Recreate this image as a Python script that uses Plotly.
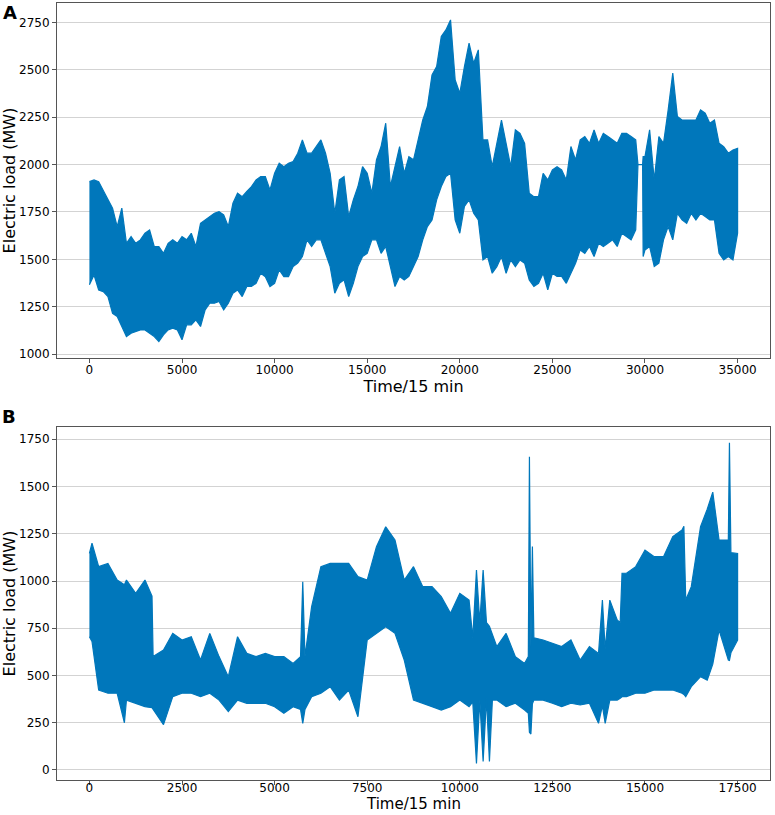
import plotly.graph_objects as go

BLUE = "#0077BB"

# Panel A: upper / lower envelope of the load series
a_time = list(range(0, 29501, 250)) + [29620, 29870, 29900] \
    + list(range(30000, 35001, 250))
a_upper = [
    1910, 1919, 1910, 1866, 1814, 1770, 1673, 1770, 1585, 1620,
    1585, 1603, 1638, 1655, 1568, 1568, 1532, 1585, 1603, 1585,
    1620, 1603, 1638, 1568, 1690, 1708, 1726, 1743, 1752, 1735,
    1673, 1796, 1849, 1831, 1858, 1884, 1919, 1937, 1937, 1866,
    1954, 2007, 1989, 2007, 2016, 2060, 2130, 2060, 2060, 2095,
    2130, 2060, 1954, 1743, 1919, 1937, 1726, 1814, 1884, 1989,
    1954, 1849, 2025, 2095, 2218, 1884, 1989, 2095, 1954, 2042,
    2025, 2130, 2235, 2306, 2473, 2517, 2675, 2710, 2763, 2446,
    2376, 2517, 2640, 2534, 2605, 2130, 2130, 1989, 2112, 2235,
    2112, 1989, 2183, 2165, 2112, 1849, 1831, 1831, 1954, 1919,
    1972, 1989, 1972, 1919, 2095, 2025, 2130, 2148, 2112, 2183,
    2112, 2165, 2148, 2130, 2112, 2165, 2165, 2148, 2130,
    2000, 2000, 2042,
    2042, 2183, 1919, 2148, 2112, 2288, 2482, 2253, 2235, 2235,
    2235, 2235, 2288, 2271, 2218, 2235, 2112, 2095, 2060, 2077,
    2086,
]
a_lower = [
    1366, 1418, 1339, 1330, 1304, 1216, 1199, 1146, 1093, 1111,
    1120, 1128, 1128, 1111, 1093, 1067, 1102, 1128, 1137, 1128,
    1076, 1155, 1155, 1181, 1146, 1234, 1269, 1269, 1278, 1234,
    1269, 1322, 1339, 1304, 1357, 1357, 1374, 1427, 1409, 1357,
    1374, 1445, 1409, 1409, 1462, 1480, 1515, 1603, 1568, 1603,
    1603, 1532, 1462, 1322, 1374, 1392, 1304, 1374, 1462, 1515,
    1532, 1603, 1603, 1532, 1568, 1462, 1357, 1410, 1392, 1410,
    1462, 1515, 1603, 1673, 1708, 1814, 1884, 1937, 1954, 1708,
    1638, 1779, 1814, 1743, 1708, 1497, 1515, 1427, 1462, 1515,
    1427, 1497, 1462, 1497, 1480, 1392, 1357, 1374, 1427, 1339,
    1427, 1410, 1410, 1374, 1427, 1480, 1550, 1532, 1568, 1515,
    1585, 1568, 1585, 1603, 1568, 1638, 1620, 1603, 1656,
    2000, 2000, 1515,
    1550, 1568, 1462, 1480, 1603, 1673, 1603, 1743, 1708, 1690,
    1743, 1708, 1743, 1726, 1708, 1708, 1532, 1497, 1515, 1497,
    1638,
]

# Panel B: upper / lower envelope of the load series, with its narrow spikes
b_time = [
    0, 70, 250, 500, 750, 945, 1000, 1250, 1500, 1690,
    1720, 2000, 2250, 2500, 2750, 3000, 3250, 3500, 3750, 4000,
    4250, 4500, 4750, 5000, 5250, 5500, 5700, 5760, 5820, 6000,
    6250, 6500, 6750, 7000, 7250, 7500, 7750, 8000, 8250, 8500,
    8750, 9000, 9250, 9500, 9750, 10000, 10250, 10350, 10450, 10540,
    10630, 10720, 10800, 10880, 11000, 11250, 11500, 11750, 11850, 11880,
    11920, 11960, 12000, 12250, 12500, 12750, 13000, 13250, 13500, 13745,
    13850, 13925, 14050, 14250, 14330, 14380, 14500, 14750, 15000, 15250,
    15500, 15750, 16000, 16050, 16100, 16250, 16500, 16680, 16830, 17000,
    17250, 17280, 17320, 17500,
]
b_upper = [
    1146, 1200, 1076, 1093, 1005, 980, 1005, 935, 1005, 920,
    600, 635, 723, 688, 705, 582, 723, 600, 494, 705,
    617, 600, 617, 600, 600, 564, 600, 996, 600, 864,
    1076, 1093, 1093, 1093, 1023, 1005, 1182, 1287, 1217, 1005,
    1076, 970, 970, 917, 829, 935, 899, 700, 1058, 780,
    1058, 780, 760, 720, 653, 723, 600, 564, 600, 1658,
    650, 1182, 700, 688, 670, 653, 688, 582, 653, 617,
    899, 640, 899, 794, 780, 1041, 1041, 1076, 1164, 1129,
    1129, 1235, 1270, 1290, 899, 970, 1287, 1380, 1470, 1217,
    1217, 1732, 1150, 1146,
]
b_lower = [
    705, 680, 423, 406, 406, 250, 370, 353, 335, 330,
    320, 240, 388, 406, 406, 388, 406, 370, 309, 370,
    353, 353, 353, 335, 300, 335, 320, 247, 320, 388,
    406, 441, 370, 423, 282, 688, 723, 758, 723, 582,
    370, 353, 335, 317, 335, 370, 335, 360, 35, 370,
    45, 380, 45, 370, 370, 335, 353, 317, 300, 200,
    190, 350, 370, 370, 353, 335, 353, 344, 353, 247,
    340, 247, 370, 370, 380, 388, 388, 406, 406, 423,
    423, 423, 406, 400, 388, 441, 494, 476, 560, 741,
    582, 580, 620, 688,
]

a_xticks = list(range(0, 35001, 5000))
a_yticks = list(range(1000, 2751, 250))
b_xticks = list(range(0, 17501, 2500))
b_yticks = list(range(0, 1751, 250))


def band(xs, upper, lower, xaxis, yaxis):
    return go.Scatter(
        x=xs + xs[::-1],
        y=upper + lower[::-1],
        fill="toself",
        fillcolor=BLUE,
        mode="lines",
        line=dict(color=BLUE, width=1.2),
        xaxis=xaxis,
        yaxis=yaxis,
        showlegend=False,
        hoverinfo="skip",
    )


fig = go.Figure()
fig.add_trace(band(a_time, a_upper, a_lower, "x", "y"))
fig.add_trace(band(b_time, b_upper, b_lower, "x2", "y2"))

axis_common = dict(
    showline=True,
    linecolor="#555555",
    linewidth=1,
    mirror=True,
    ticks="outside",
    ticklen=4,
    tickcolor="#555555",
    tickfont=dict(family="DejaVu Sans", size=12, color="black"),
    tickformat="d",
    zeroline=False,
    automargin=False,
)
y_common = dict(
    showgrid=True,
    gridcolor="#d3d3d3",
    gridwidth=1,
    title=dict(text="Electric load (MW)", font=dict(size=16), standoff=4),
)

fig.update_layout(
    width=775,
    height=815,
    margin=dict(l=57, r=5, t=3, b=35),
    paper_bgcolor="white",
    plot_bgcolor="white",
    font=dict(family="DejaVu Sans", color="black"),
    xaxis=dict(domain=[0, 1], anchor="y", range=[-1750, 36750],
               tickvals=a_xticks, showgrid=False, ticklabelstandoff=-3,
               title=dict(text="Time/15 min", font=dict(size=16), standoff=1),
               **axis_common),
    yaxis=dict(domain=[0.5431, 1.0], anchor="x", range=[980, 2852],
               tickvals=a_yticks, **y_common, **axis_common),
    xaxis2=dict(domain=[0, 1], anchor="y2", range=[-875, 18375],
                tickvals=b_xticks, showgrid=False, ticklabelstandoff=-7,
                **axis_common),
    yaxis2=dict(domain=[0, 0.4543], anchor="x2", range=[-53, 1815],
                tickvals=b_yticks, **y_common, **axis_common),
    annotations=[
        dict(text="<b>A</b>", x=-0.066, y=0.9878, xref="paper", yref="paper",
             xanchor="center", yanchor="middle", showarrow=False,
             font=dict(size=18, family="DejaVu Sans")),
        dict(text="<b>B</b>", x=-0.067, y=0.4672, xref="paper", yref="paper",
             xanchor="center", yanchor="middle", showarrow=False,
             font=dict(size=18, family="DejaVu Sans")),
        dict(text="Time/15 min", x=0.5, y=-0.045, xref="paper", yref="paper",
             xanchor="center", yanchor="bottom", showarrow=False,
             font=dict(size=15, family="DejaVu Sans")),
    ],
)

fig.write_html(
    "out.html",
    config={"displayModeBar": False},
    post_script="document.body.style.margin='0px';",
)
